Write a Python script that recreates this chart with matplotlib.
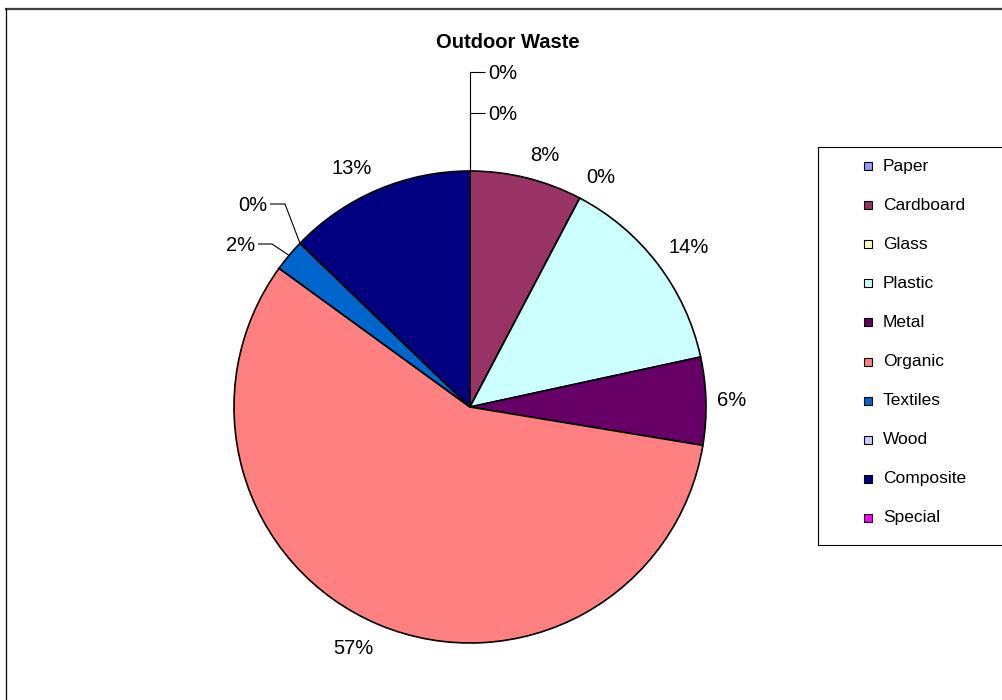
import matplotlib
matplotlib.use('Agg')
import numpy as np
import matplotlib.pyplot as plt
from matplotlib.patches import Rectangle
from matplotlib.lines import Line2D

plt.rcParams['font.family'] = ['Liberation Sans', 'DejaVu Sans']

# waste composition, percent of total
categories = ['Paper', 'Cardboard', 'Glass', 'Plastic', 'Metal',
              'Organic', 'Textiles', 'Wood', 'Composite', 'Special']
shares = [0.0, 7.7, 0.0, 13.9, 6.0, 57.4, 2.2, 0.0, 12.8, 0.0]
colors = ['#9999FF', '#993366', '#FFFFCC', '#CCFFFF', '#660066',
          '#FF8080', '#0066CC', '#CCCCFF', '#000080', '#FF00FF']
title = 'Outdoor Waste'

W, H = 1003, 700


def img(y):
    # work in pixel rows counted from the top
    return H - y


fig = plt.figure(figsize=(W / 100, H / 100), dpi=100)
ax = fig.add_axes([0, 0, 1, 1])

cx, cy, radius = 470, 407, 236
wedges, _ = ax.pie(shares, colors=colors, startangle=90, counterclock=False,
                   center=(cx, img(cy)), radius=radius, frame=True,
                   wedgeprops=dict(edgecolor='black', linewidth=1.2))
ax.set_aspect('auto')
ax.set_xlim(0, W)
ax.set_ylim(0, H)
ax.axis('off')

label_size = 14.5
label_gap = 250

# small slices get their labels pulled out on leader lines
leaders = {
    'Paper': [(470, 72), (485, 72)],
    'Special': [(470, 113), (485, 113)],
    'Wood': [(285, 204), (270, 204)],
    'Textiles': [(272, 244), (258, 244)],
}

for name, value, w in zip(categories, shares, wedges):
    text = f'{round(value)}%'
    theta = np.deg2rad((w.theta1 + w.theta2) / 2)
    ux, uy = np.cos(theta), np.sin(theta)
    if name in leaders:
        rim = (cx + radius * ux, cy - radius * uy)
        pts = [rim] + leaders[name]
        ax.plot([p[0] for p in pts], [img(p[1]) for p in pts],
                color='black', lw=0.8, solid_capstyle='butt')
        (x0, _), (x1, y1) = pts[-2], pts[-1]
        side = 1 if x1 > x0 else -1
        ax.text(x1 + 3 * side, img(y1 + 7), text, fontsize=label_size,
                ha='left' if side > 0 else 'right', va='baseline')
        continue
    px = cx + label_gap * ux
    py = cy - label_gap * uy
    if abs(uy) < 0.3:
        base = py + 5
    elif uy > 0:
        base = py - 3
    else:
        base = py + 16
    ax.text(px - 3 * (abs(uy) < 0.3), img(base), text, fontsize=label_size,
            ha='left' if ux > 0 else 'right', va='baseline')

ax.text(508, img(48), title, fontsize=14.5, fontweight='bold',
        ha='center', va='baseline')

# legend box runs off the right edge of the chart area
ax.add_patch(Rectangle((818, img(545)), 300, 398, facecolor='none',
                       edgecolor='black', lw=0.8))
row0, row_step = 166, 39.1
for i, (name, c) in enumerate(zip(categories, colors)):
    ry = row0 + i * row_step
    ax.add_patch(Rectangle((864, img(ry + 4)), 8, 8, facecolor=c,
                           edgecolor='black', lw=0.8))
    ax.text(883, img(ry), name, fontsize=12.5, ha='left', va='center')

# chart area border, clipped at right and bottom
fig.add_artist(Line2D([6 / W, 1], [img(9) / H, img(9) / H],
                      color='#404040', lw=1.6))
fig.add_artist(Line2D([6 / W, 6 / W], [0, img(9) / H],
                      color='black', lw=0.9))

fig.savefig('out.png', dpi=100)
